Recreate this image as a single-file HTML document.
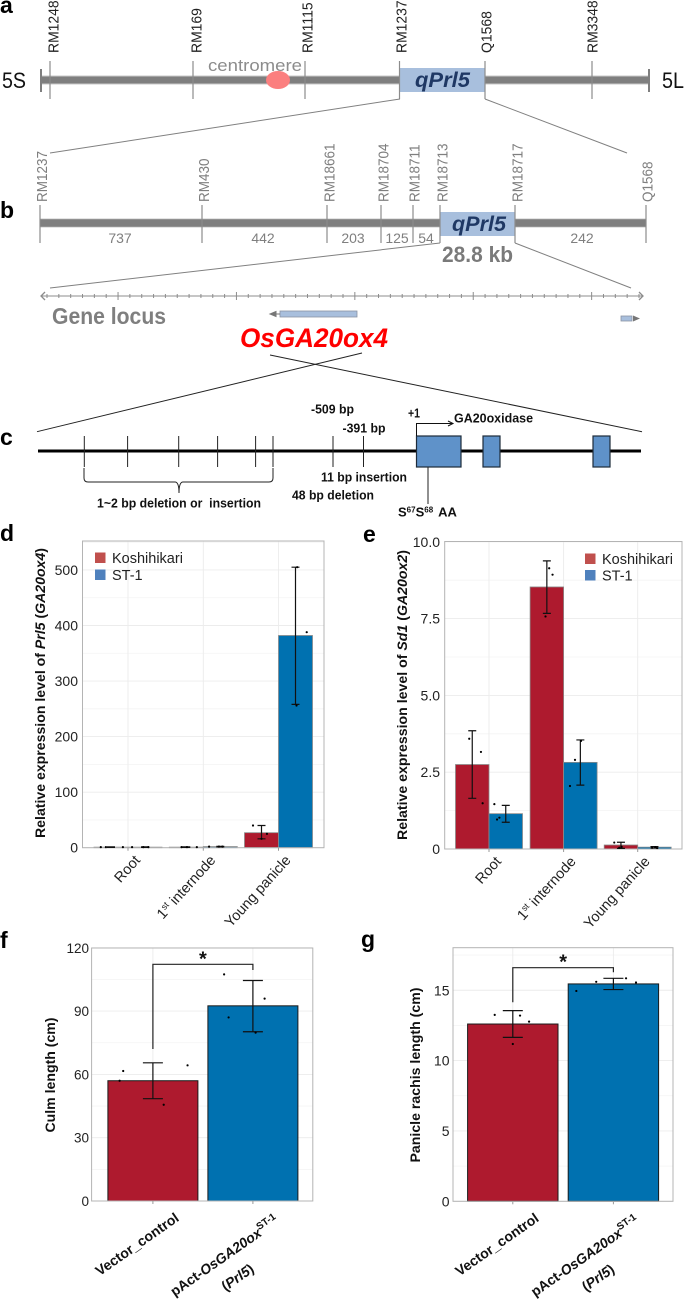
<!DOCTYPE html>
<html lang="en">
<head>
<meta charset="utf-8">
<title>qPrl5 locus and expression figure</title>
<style>
html,body{margin:0;padding:0;background:#fff;}
svg{display:block;font-family:"Liberation Sans",Arial,sans-serif;}
.lab{font-weight:bold;font-size:23px;fill:#000;}
.mk{font-size:15px;fill:#222;}
.mkb{font-size:15px;fill:#7f7f7f;}
.num{font-size:14px;fill:#7f7f7f;text-anchor:middle;}
.c{font-weight:bold;font-size:13px;fill:#111;}
</style>
</head>
<body>
<svg id="fig" xmlns="http://www.w3.org/2000/svg" width="685" height="1299" viewBox="0 0 685 1299">
<rect width="685" height="1299" fill="#fff"/>

<!-- Panel a -->
<g>
<text class="lab" x="0" y="13">a</text>
<line x1="41" y1="80" x2="649" y2="80" stroke="#c9c9c9" stroke-width="9"/>
<line x1="41" y1="80" x2="649" y2="80" stroke="#7f7f7f" stroke-width="7"/>
<line x1="41" y1="69" x2="41" y2="92" stroke="#7f7f7f" stroke-width="2"/>
<line x1="649" y1="69" x2="649" y2="92" stroke="#7f7f7f" stroke-width="2"/>
<g stroke="#8c8c8c" stroke-width="1.2">
<line x1="50" y1="61" x2="50" y2="99"/>
<line x1="193" y1="61" x2="193" y2="99"/>
<line x1="305" y1="61" x2="305" y2="99"/>
<line x1="592" y1="61" x2="592" y2="99"/>
</g>
<rect x="400" y="68" width="85" height="24" fill="#a8bfdd"/>
<line x1="399.5" y1="61" x2="399.5" y2="99" stroke="#8c8c8c" stroke-width="1.2"/>
<line x1="485" y1="61" x2="485" y2="99" stroke="#8c8c8c" stroke-width="1.2"/>
<text x="415" y="87" font-weight="bold" font-style="italic" font-size="21" fill="#1f3864" textLength="55" lengthAdjust="spacingAndGlyphs">qPrl5</text>
<ellipse cx="278" cy="80" rx="12" ry="9" fill="#fb7f7f"/>
<text x="208" y="71" font-size="17" fill="#8c8c8c" textLength="94" lengthAdjust="spacingAndGlyphs">centromere</text>
<text x="2" y="88" font-size="22" fill="#111" textLength="24" lengthAdjust="spacingAndGlyphs">5S</text>
<text x="662" y="88" font-size="22" fill="#111" textLength="22" lengthAdjust="spacingAndGlyphs">5L</text>
<text class="mk" transform="translate(58.5,53) rotate(-90) scale(.93,1)">RM1248</text>
<text class="mk" transform="translate(201.5,53) rotate(-90) scale(.93,1)">RM169</text>
<text class="mk" transform="translate(312.5,53) rotate(-90) scale(.93,1)">RM1115</text>
<text class="mk" transform="translate(406.5,53) rotate(-90) scale(.93,1)">RM1237</text>
<text class="mk" transform="translate(491.5,53) rotate(-90) scale(.93,1)">Q1568</text>
<text class="mk" transform="translate(597.5,53) rotate(-90) scale(.93,1)">RM3348</text>
<line x1="400" y1="99" x2="50" y2="153" stroke="#808080" stroke-width="1"/>
<line x1="485" y1="99" x2="627" y2="153" stroke="#808080" stroke-width="1"/>
</g>

<!-- Panel b -->
<g>
<text class="lab" x="0" y="218">b</text>
<line x1="40" y1="223" x2="646" y2="223" stroke="#c9c9c9" stroke-width="9"/>
<line x1="40" y1="223" x2="646" y2="223" stroke="#7f7f7f" stroke-width="7.5"/>
<rect x="440" y="212" width="75" height="24" fill="#a8bfdd"/>
<g stroke="#8c8c8c" stroke-width="1.2">
<line x1="40" y1="205" x2="40" y2="243"/>
<line x1="202" y1="205" x2="202" y2="243"/>
<line x1="327" y1="205" x2="327" y2="243"/>
<line x1="381" y1="205" x2="381" y2="243"/>
<line x1="413" y1="205" x2="413" y2="243"/>
<line x1="440" y1="205" x2="440" y2="243"/>
<line x1="515" y1="205" x2="515" y2="243"/>
<line x1="646" y1="205" x2="646" y2="243"/>
</g>
<text x="452" y="231" font-weight="bold" font-style="italic" font-size="21" fill="#1f3864" textLength="54" lengthAdjust="spacingAndGlyphs">qPrl5</text>
<text class="mkb" transform="translate(47,202) rotate(-90) scale(.9,1)">RM1237</text>
<text class="mkb" transform="translate(209,202) rotate(-90) scale(.9,1)">RM430</text>
<text class="mkb" transform="translate(334.5,202) rotate(-90) scale(.9,1)">RM18661</text>
<text class="mkb" transform="translate(388.5,202) rotate(-90) scale(.9,1)">RM18704</text>
<text class="mkb" transform="translate(419.5,202) rotate(-90) scale(.9,1)">RM18711</text>
<text class="mkb" transform="translate(447.5,202) rotate(-90) scale(.9,1)">RM18713</text>
<text class="mkb" transform="translate(522.5,202) rotate(-90) scale(.9,1)">RM18717</text>
<text class="mkb" transform="translate(652.5,202) rotate(-90) scale(.9,1)">Q1568</text>
<text class="num" x="120" y="243">737</text>
<text class="num" x="263" y="243">442</text>
<text class="num" x="353" y="243">203</text>
<text class="num" x="397" y="243">125</text>
<text class="num" x="426" y="243">54</text>
<text class="num" x="582" y="243">242</text>
<text x="442" y="262" font-weight="bold" font-size="22" fill="#7a7a7a" textLength="71" lengthAdjust="spacingAndGlyphs">28.8 kb</text>
<line x1="440" y1="243" x2="50" y2="288" stroke="#808080" stroke-width="1"/>
<line x1="515" y1="243" x2="631" y2="288" stroke="#808080" stroke-width="1"/>
<g id="scale" stroke="#8c8c8c" stroke-width="1" fill="none">
<line x1="41" y1="296" x2="643" y2="296"/>
<path d="M45 292 L41 296 L45 300 M639 292 L643 296 L639 300" stroke-width="1.3"/>
</g>
<text x="52" y="324" font-weight="bold" font-size="23" fill="#7f7f7f" textLength="114" lengthAdjust="spacingAndGlyphs">Gene locus</text>
<rect x="280" y="311" width="77" height="6" fill="#a8bfdd" stroke="#8a93a3" stroke-width="0.8"/>
<path d="M280 314 L273 314 M276 311.5 L270 314 L276 316.5 Z" stroke="#777" fill="#777"/>
<rect x="621" y="316" width="11" height="5" fill="#a8bfdd" stroke="#8a93a3" stroke-width="0.8"/>
<path d="M633 315.5 L640 318.5 L633 321.5 Z" fill="#777"/>
<text x="240" y="347" font-weight="bold" font-style="italic" font-size="27" fill="#f00" textLength="148" lengthAdjust="spacingAndGlyphs">OsGA20ox4</text>
</g>

<!-- Panel c -->
<g>
<text class="lab" x="0" y="445">c</text>
<line x1="37" y1="431.7" x2="362" y2="353" stroke="#222" stroke-width="1"/>
<line x1="642" y1="431.7" x2="270" y2="355" stroke="#222" stroke-width="1"/>
<line x1="38" y1="451" x2="641" y2="451" stroke="#000" stroke-width="3"/>
<g stroke="#222" stroke-width="1">
<line x1="84.3" y1="436" x2="84.3" y2="467"/>
<line x1="127.6" y1="436" x2="127.6" y2="467"/>
<line x1="178.7" y1="436" x2="178.7" y2="467"/>
<line x1="217.6" y1="436" x2="217.6" y2="467"/>
<line x1="255.6" y1="436" x2="255.6" y2="467"/>
<line x1="273" y1="436" x2="273" y2="467"/>
<line x1="333" y1="436" x2="333" y2="467"/>
<line x1="363.5" y1="436" x2="363.5" y2="467"/>
</g>
<path d="M84 468 L84 478 Q84 482 88 482 L175 482 Q179 482 179 493 Q179 482 183 482 L269 482 Q273 482 273 478 L273 468" fill="none" stroke="#222" stroke-width="1"/>
<rect x="416.5" y="436" width="44.5" height="31" fill="#5f92c9" stroke="#1d2b3a" stroke-width="1.2"/>
<rect x="483" y="436" width="17" height="31" fill="#5f92c9" stroke="#1d2b3a" stroke-width="1.2"/>
<rect x="593" y="436" width="17" height="31" fill="#5f92c9" stroke="#1d2b3a" stroke-width="1.2"/>
<path d="M416.5 436 L416.5 423.5 L452 423.5 M448 421 L453 423.5 L448 426" fill="none" stroke="#111" stroke-width="1"/>
<line x1="428" y1="467" x2="428" y2="504" stroke="#222" stroke-width="1"/>
<text class="c" x="408" y="417.5" textLength="12" lengthAdjust="spacingAndGlyphs">+1</text>
<text class="c" x="454" y="422.5" textLength="79" lengthAdjust="spacingAndGlyphs">GA20oxidase</text>
<text class="c" x="311" y="413.5" textLength="43" lengthAdjust="spacingAndGlyphs">-509 bp</text>
<text class="c" x="342.5" y="432.5" textLength="43" lengthAdjust="spacingAndGlyphs">-391 bp</text>
<text class="c" x="321" y="481.5" textLength="86" lengthAdjust="spacingAndGlyphs">11 bp insertion</text>
<text class="c" x="292" y="499.5" textLength="82" lengthAdjust="spacingAndGlyphs">48 bp deletion</text>
<text class="c" x="97" y="507.5" textLength="164" lengthAdjust="spacingAndGlyphs">1~2 bp deletion or&#160; insertion</text>
<text class="c" x="398" y="516.5">S<tspan font-size="8" dy="-4">67</tspan><tspan dy="4">S</tspan><tspan font-size="8" dy="-4">68</tspan><tspan dy="4" dx="5">AA</tspan></text>
</g>

<text class="lab" x="0" y="541">d</text>
<text class="lab" x="363" y="542">e</text>
<text class="lab" x="0" y="948">f</text>
<text class="lab" x="361" y="947">g</text>
</svg>

<script>
/* ---------- Panel d data ---------- */
const dCategories = ['Root', '1^st internode', 'Young panicle'];
const dTicks = [0, 100, 200, 300, 400, 500];
const dTickLabels = ['0', '100', '200', '300', '400', '500'];
const dKoshiValues = [1, 1, 27];
const dKoshiLow = [0.5, 0.5, 16];
const dKoshiHigh = [1.5, 1.5, 40];
const dKoshiPoints = [[1, 1, 1], [1, 1, 1], [40, 25, 16]];
const dKoshiJitter = [[-0.3, -0.15, 0.35], [-0.14, 0.02, 0.31], [-0.25, 0.16, 0]];
const dStValues = [1, 2, 382];
const dStLow = [0.5, 1.5, 258];
const dStHigh = [1.5, 2.5, 505];
const dStPoints = [[1, 1, 1], [2, 2, 2], [505, 388, 256]];
const dStJitter = [[-0.38, -0.05, 0.1], [-0.33, -0.04, 0.06], [0.05, 0.33, 0.03]];

/* ---------- Panel e data ---------- */
const eCategories = ['Root', '1^st internode', 'Young panicle'];
const eTicks = [0, 2.5, 5, 7.5, 10];
const eTickLabels = ['0', '2.5', '5.0', '7.5', '10.0'];
const eKoshiValues = [2.75, 8.53, 0.13];
const eKoshiLow = [1.65, 7.67, 0.02];
const eKoshiHigh = [3.85, 9.38, 0.22];
const eKoshiPoints = [[3.59, 3.16, 1.49], [9.14, 8.93, 7.57], [0.21, 0.04, 0.07]];
const eKoshiJitter = [[-0.09, 0.26, 0.31], [0.07, 0.17, -0.04], [-0.2, -0.05, 0.02]];
const eStValues = [1.15, 2.82, 0.06];
const eStLow = [0.87, 2.08, 0.03];
const eStHigh = [1.42, 3.55, 0.08];
const eStPoints = [[1.46, 0.96, 1.02], [2.9, 2.05, 3.52], [0.04, 0.06, 0.03]];
const eStJitter = [[-0.34, -0.26, -0.19], [-0.16, -0.31, 0.02], [-0.07, 0.03, 0.08]];

/* ---------- Panel f data ---------- */
const fTicks = [0, 30, 60, 90, 120];
const fTickLabels = ['0', '30', '60', '90', '120'];
const fValues = [57, 92.5];
const fLow = [48.5, 80.2];
const fHigh = [65.5, 104.5];
const fPoints = [[61.6, 57, 45.6, 64.3], [107.4, 95.9, 87, 79.8]];
const fJitter = [[-0.33, -0.37, 0.12, 0.385], [-0.32, 0.13, -0.27, 0.03]];

/* ---------- Panel g data ---------- */
const gTicks = [0, 5, 10, 15];
const gTickLabels = ['0', '5', '10', '15'];
const gValues = [12.6, 15.45];
const gLow = [11.65, 15.05];
const gHigh = [13.55, 15.85];
const gPoints = [[13.25, 13.2, 12.77, 11.18], [14.95, 15.6, 15.85, 15.55]];
const gJitter = [[-0.2, 0.08, 0.18, 0], [-0.41, -0.19, 0.14, 0.25]];

const seriesNames = ['Koshihikari', 'ST-1'];

const NS = 'http://www.w3.org/2000/svg';
const fig = document.getElementById('fig');
const RED = '#ae1a2e';
const BLUE = '#0071b0';

function mk(tag, attrs, parent) {
  const el = document.createElementNS(NS, tag);
  for (const k in attrs) el.setAttribute(k, attrs[k]);
  parent.appendChild(el);
  return el;
}

/* gene scale ticks */
(function () {
  const scale = document.getElementById('scale');
  for (let i = 0; i <= 50; i++) {
    const major = i % 10 === 6;
    const x = 47 + 11.84 * i;
    const t = mk('line', { x1: x, x2: x, y1: major ? 292 : 294, y2: major ? 300 : 298 }, scale);
    
    
  }
})();

function frame(p) {
  const root = mk('g', {}, fig);
  
  
  const sy = v => p.y0 - v * p.unit;
  const minor = mk('g', { stroke: '#f4f4f4', 'stroke-width': 0.8 }, root);
  
  
  const step = p.ticks[1] - p.ticks[0];
  for (let v = step / 2; sy(v) > p.top; v += step) {
    const l = mk('line', { x1: p.left, x2: p.right, y1: sy(v), y2: sy(v) }, minor);
    
    
  }
  const major = mk('g', { stroke: '#ececec', 'stroke-width': 0.9 }, root);
  
  
  p.ticks.forEach(v => {
    const l = mk('line', { x1: p.left, x2: p.right, y1: sy(v), y2: sy(v) }, major);
    
    
  });
  p.centers.forEach(c => {
    const l = mk('line', { x1: c, x2: c, y1: p.top, y2: p.y0 }, major);
    
    
  });
  p.ticks.forEach((v, i) => {
    const t = mk('text', { x: p.labelX, y: sy(v) + 5, 'text-anchor': 'end', 'font-size': p.tickFont, fill: '#222' }, root);
    t.textContent = p.tickLabels[i];
    
    
  });
  return { root, sy };
}

function border(p, root) {
  const b = mk('rect', { x: p.left, y: p.top, width: p.right - p.left, height: p.y0 - p.top, fill: 'none', stroke: '#b4b4b4', 'stroke-width': 1 }, root);
  
  
  p.centers.forEach(c => {
    const l = mk('line', { x1: c, x2: c, y1: p.y0, y2: p.y0 + 3, stroke: '#999', 'stroke-width': 1 }, root);
    
    
  });
}

function bar(root, sy, x, w, value, fill, stroke, sw) {
  const r = mk('rect', { x: x, y: sy(value), width: w, height: sy(0) - sy(value), fill: fill, stroke: stroke, 'stroke-width': sw }, root);
  
  
}

function whisker(root, sy, cx, lo, hi, cap) {
  const d = 'M' + cx + ' ' + sy(lo) + 'V' + sy(hi) + 'M' + (cx - cap) + ' ' + sy(hi) + 'H' + (cx + cap) + 'M' + (cx - cap) + ' ' + sy(lo) + 'H' + (cx + cap);
  const e = mk('path', { d: d, fill: 'none', stroke: '#111', 'stroke-width': 1.2 }, root);
  
  
}

function dots(root, sy, cx, w, vals, jit) {
  vals.forEach((v, i) => {
    const c = mk('circle', { cx: cx + jit[i] * w, cy: sy(v), r: 1.1, fill: '#000' }, root);
    
    
  });
}

function yTitle(root, x, y, len, font, parts) {
  const t = mk('text', { transform: 'translate(' + x + ',' + y + ') rotate(-90)', 'text-anchor': 'middle', 'font-weight': 'bold', 'font-size': font, fill: '#111', textLength: len, lengthAdjust: 'spacingAndGlyphs' }, root);
  parts.forEach(pt => {
    const s = mk('tspan', pt[1] ? { 'font-style': 'italic' } : {}, t);
    s.textContent = pt[0];
  });
  
  
}

function legend(root, sx, tx, y1, y2) {
  [y1, y2].forEach((y, i) => {
    const r = mk('rect', { x: sx, y: y, width: 10.5, height: 10.5, fill: i ? '#4f81bd' : '#c0504d' }, root);
    
    
    const t = mk('text', { x: tx, y: y + 10.5, 'font-size': 14.5, fill: '#222' }, root);
    t.textContent = seriesNames[i];
    
    
  });
}

function catLabel(root, text, x, y) {
  const t = mk('text', { transform: 'translate(' + x + ',' + y + ') rotate(-48)', 'text-anchor': 'end', 'font-size': 14.5, fill: '#222' }, root);
  const bits = text.split('^');
  if (bits.length > 1) {
    const a = mk('tspan', {}, t);
    a.textContent = bits[0];
    const b = mk('tspan', { 'font-size': 9, dy: -5 }, t);
    b.textContent = bits[1].slice(0, 2);
    const c = mk('tspan', { dy: 5 }, t);
    c.textContent = bits[1].slice(2);
  } else {
    t.textContent = text;
  }
  
  
}

function grouped(p) {
  const { root, sy } = frame(p);
  p.centers.forEach((c, i) => {
    bar(root, sy, c - p.barW, p.barW, p.kV[i], RED, '#8a8a8a', 0.8);
    bar(root, sy, c, p.barW, p.sV[i], BLUE, '#8a8a8a', 0.8);
  });
  border(p, root);
  p.centers.forEach((c, i) => {
    whisker(root, sy, c - p.barW / 2, p.kL[i], p.kH[i], 4);
    whisker(root, sy, c + p.barW / 2, p.sL[i], p.sH[i], 4);
    dots(root, sy, c - p.barW / 2, p.barW, p.kP[i], p.kJ[i]);
    dots(root, sy, c + p.barW / 2, p.barW, p.sP[i], p.sJ[i]);
    catLabel(root, p.cats[i], c + p.catDx, p.y0 + 13);
  });
  return root;
}

function single(p) {
  const { root, sy } = frame(p);
  const fills = [RED, BLUE];
  p.centers.forEach((c, i) => {
    bar(root, sy, c - p.barW / 2, p.barW, p.values[i], fills[i], '#1a1a1a', 1);
  });
  border(p, root);
  p.centers.forEach((c, i) => {
    whisker(root, sy, c, p.low[i], p.high[i], 10);
    dots(root, sy, c, p.barW, p.points[i], p.jitter[i]);
  });
  const br = mk('path', { d: 'M' + p.centers[0] + ' ' + p.brLeft + 'V' + p.brTop + 'H' + p.centers[1] + 'V' + p.brRight, fill: 'none', stroke: '#222', 'stroke-width': 1.2 }, root);
  
  
  const st = mk('text', { x: (p.centers[0] + p.centers[1]) / 2, y: p.brTop + 1, 'text-anchor': 'middle', 'font-size': 20, 'font-weight': 'bold', fill: '#111' }, root);
  st.textContent = '*';
  
  

  const v = mk('text', { transform: 'translate(' + (p.centers[0] + 27) + ',' + (p.y0 + 19) + ') rotate(-35)', 'text-anchor': 'end', 'font-size': 14, 'font-weight': 'bold', fill: '#111' }, root);
  v.textContent = 'Vector_control';
  
  

  const a = mk('text', { transform: 'translate(' + (p.centers[1] + 27) + ',' + (p.y0 + 22) + ') rotate(-35)', 'text-anchor': 'end', 'font-size': 14, 'font-weight': 'bold', fill: '#111' }, root);
  const a1 = mk('tspan', {}, a);
  a1.textContent = 'pAct-';
  const a2 = mk('tspan', { 'font-style': 'italic' }, a);
  a2.textContent = 'OsGA20ox';
  const a3 = mk('tspan', { 'font-size': 10, dy: -6 }, a);
  a3.textContent = 'ST-1';
  
  

  const b = mk('text', { transform: 'translate(' + (p.centers[1] + 2) + ',' + (p.y0 + 70) + ') rotate(-35)', 'text-anchor': 'end', 'font-size': 14, 'font-weight': 'bold', fill: '#111' }, root);
  const b1 = mk('tspan', {}, b);
  b1.textContent = '(';
  const b2 = mk('tspan', { 'font-style': 'italic' }, b);
  b2.textContent = 'Prl5';
  const b3 = mk('tspan', {}, b);
  b3.textContent = ')';
  
  
  return root;
}

const dRoot = grouped({
  name: 'panel-d-prl5-expression-chart', left: 82.5, right: 324, top: 541, y0: 847.7, unit: 0.5555,
  ticks: dTicks, tickLabels: dTickLabels, labelX: 78, tickFont: 14,
  centers: [128, 203.3, 278.5], barW: 34, catDx: 13, cats: dCategories,
  kV: dKoshiValues, kL: dKoshiLow, kH: dKoshiHigh, kP: dKoshiPoints, kJ: dKoshiJitter,
  sV: dStValues, sL: dStLow, sH: dStHigh, sP: dStPoints, sJ: dStJitter
});
yTitle(dRoot, 45, 693, 290, 14, [['Relative expression level of ', 0], ['Prl5', 1], [' (', 0], ['GA20ox4', 1], [')', 0]]);
legend(dRoot, 95, 112, 552.5, 569.5);

const eRoot = grouped({
  name: 'panel-e-sd1-expression-chart', left: 444.7, right: 682, top: 541.5, y0: 849, unit: 30.72,
  ticks: eTicks, tickLabels: eTickLabels, labelX: 440, tickFont: 14,
  centers: [489, 563.6, 637.7], barW: 33.5, catDx: 13, cats: eCategories,
  kV: eKoshiValues, kL: eKoshiLow, kH: eKoshiHigh, kP: eKoshiPoints, kJ: eKoshiJitter,
  sV: eStValues, sL: eStLow, sH: eStHigh, sP: eStPoints, sJ: eStJitter
});
yTitle(eRoot, 407, 695, 290, 14, [['Relative expression level of ', 0], ['Sd1', 1], [' (', 0], ['GA20ox2', 1], [')', 0]]);
legend(eRoot, 585, 602, 553.5, 570);

const fRoot = single({
  name: 'panel-f-culm-length-chart', left: 91.6, right: 312.8, top: 948, y0: 1201, unit: 2.11,
  ticks: fTicks, tickLabels: fTickLabels, labelX: 89, tickFont: 13.5,
  centers: [152.9, 252.9], barW: 90, values: fValues, low: fLow, high: fHigh, points: fPoints, jitter: fJitter,
  brLeft: 1049, brTop: 964.3, brRight: 970
});
yTitle(fRoot, 55, 1075, 115, 13.5, [['Culm length (cm)', 0]]);

const gRoot = single({
  name: 'panel-g-panicle-rachis-chart', left: 453, right: 673, top: 947.7, y0: 1201.3, unit: 14.07,
  ticks: gTicks, tickLabels: gTickLabels, labelX: 449.5, tickFont: 14,
  centers: [512.8, 613.4], barW: 90.4, values: gValues, low: gLow, high: gHigh, points: gPoints, jitter: gJitter,
  brLeft: 1002.3, brTop: 967.7, brRight: 972.3
});
yTitle(gRoot, 420, 1075, 175, 13.5, [['Panicle rachis length (cm)', 0]]);
</script>
</body>
</html>
